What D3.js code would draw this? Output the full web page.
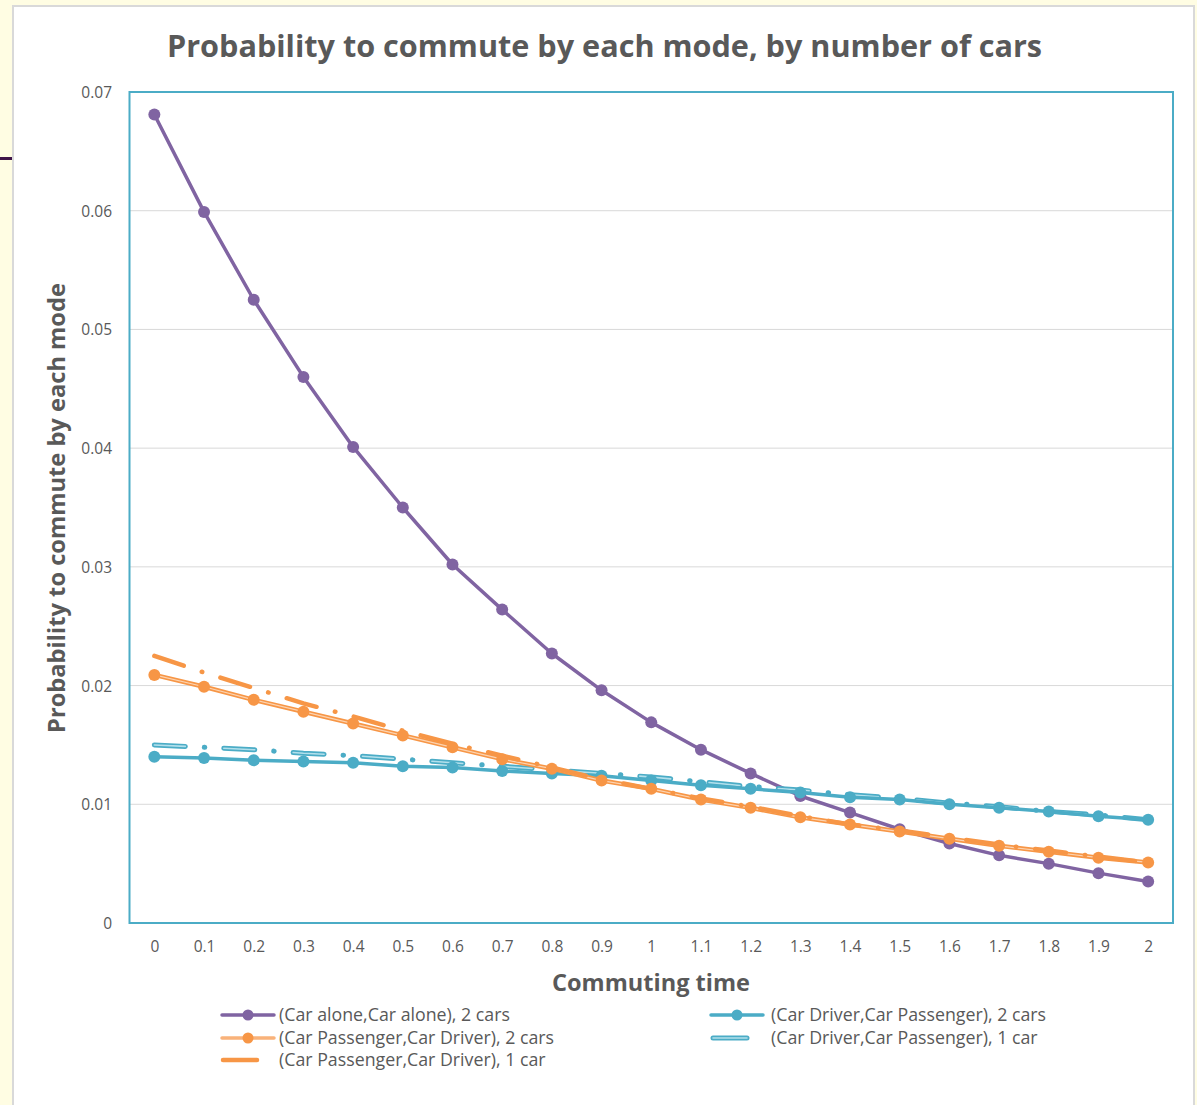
<!DOCTYPE html>
<html>
<head>
<meta charset="utf-8">
<script src="https://cdn.jsdelivr.net/npm/d3@7"></script>
<style>
  html, body { margin: 0; padding: 0; background: #fffde3; }
  svg { display: block; }
</style>
</head>
<body>
<svg id="chart" width="1197" height="1105"></svg>
<script>
// Commuting time categories (x axis)
const times = ["0","0.1","0.2","0.3","0.4","0.5","0.6","0.7","0.8","0.9","1",
               "1.1","1.2","1.3","1.4","1.5","1.6","1.7","1.8","1.9","2"];
const yTicks = [0, 0.01, 0.02, 0.03, 0.04, 0.05, 0.06, 0.07];

// Probability series
const carAlone2 = [0.0681,0.0599,0.0525,0.0460,0.0401,0.0350,0.0302,0.0264,0.0227,0.0196,0.0169,
                   0.0146,0.0126,0.0107,0.0093,0.0079,0.0067,0.0057,0.0050,0.0042,0.0035];
const passDriver2 = [0.0209,0.0199,0.0188,0.0178,0.0168,0.0158,0.0148,0.0138,0.0130,0.0120,0.0113,
                     0.0104,0.0097,0.0089,0.0083,0.0077,0.0071,0.0065,0.0060,0.0055,0.0051];
const passDriver1 = [0.0225,0.0211,0.0198,0.0185,0.0174,0.0162,0.0151,0.0141,0.0131,0.0121,0.0113,
                     0.0105,0.0098,0.0090,0.0083,0.0078,0.0072,0.0066,0.0061,0.0056,0.0051];
const driverPass2 = [0.0140,0.0139,0.0137,0.0136,0.0135,0.0132,0.0131,0.0128,0.0126,0.0124,0.0120,
                     0.0116,0.0113,0.0110,0.0106,0.0104,0.0100,0.0097,0.0094,0.0090,0.0087];
const driverPass1 = [0.0150,0.0148,0.0146,0.0143,0.0141,0.0138,0.0135,0.0132,0.0129,0.0126,0.0123,
                     0.0119,0.0115,0.0112,0.0108,0.0105,0.0101,0.0098,0.0094,0.0091,0.0087];

const labels = {
  carAlone2: "(Car alone,Car alone), 2 cars",
  passDriver2: "(Car Passenger,Car Driver), 2 cars",
  passDriver1: "(Car Passenger,Car Driver), 1 car",
  driverPass2: "(Car Driver,Car Passenger), 2 cars",
  driverPass1: "(Car Driver,Car Passenger), 1 car"
};

const PURPLE = "#8064a2", ORANGE = "#f79646", BLUE = "#4bacc6";
const BLUE_INNER = "#b3e0ec";
const TEXT = "#595959";
const FONT = "'Open Sans', 'Noto Sans', sans-serif";
const DASHDOT = "31,19,0.5,19";

const svg = d3.select("#chart");

// Fit a text element's font size so it spans a given width
function fitWidth(sel, width) {
  const node = sel.node();
  const size = parseFloat(sel.attr("font-size"));
  const w = node.getComputedTextLength();
  sel.attr("font-size", (size * width / w).toFixed(2));
  return size * width / w;
}

// slide remnant on the left edge
svg.append("rect").attr("x", 0).attr("y", 157).attr("width", 13).attr("height", 3).attr("fill", "#3f1548");

// chart panel
svg.append("rect").attr("x", 13).attr("y", 6).attr("width", 1181).attr("height", 1110)
  .attr("fill", "#ffffff").attr("stroke", "#d9d9d9").attr("stroke-width", 2);

const plot = { left: 129.5, right: 1173, top: 92, bottom: 923 };

const x = d3.scalePoint().domain(times).range([plot.left, plot.right]).padding(0.5);
const y = d3.scaleLinear().domain([0, 0.07]).range([plot.bottom, plot.top]);

// gridlines
svg.append("g").selectAll("line").data(yTicks.slice(1, -1)).join("line")
  .attr("x1", plot.left).attr("x2", plot.right)
  .attr("y1", d => y(d)).attr("y2", d => y(d))
  .attr("stroke", "#d9d9d9").attr("stroke-width", 1);

// y axis labels
const yAxis = d3.axisLeft(y).tickValues(yTicks).tickSize(0).tickPadding(0)
  .tickFormat(d => d === 0 ? "0" : d3.format(".2f")(d));
const gy = svg.append("g").attr("transform", `translate(112,0)`).call(yAxis);
gy.select(".domain").remove();
gy.selectAll("text").attr("fill", TEXT).attr("font-family", FONT).attr("font-size", 15.5).attr("dy", "0.35em");

// x axis labels
const xAxis = d3.axisBottom(x).tickSize(0).tickPadding(0);
const gx = svg.append("g").attr("transform", `translate(0,947)`).call(xAxis);
gx.select(".domain").remove();
gx.selectAll("text").attr("fill", TEXT).attr("font-family", FONT).attr("font-size", 15.5).attr("dy", "0.35em");

// plot border
svg.append("rect").attr("x", plot.left).attr("y", plot.top)
  .attr("width", plot.right - plot.left).attr("height", plot.bottom - plot.top)
  .attr("fill", "none").attr("stroke", BLUE).attr("stroke-width", 2);

const line = d3.line().x((d, i) => x(times[i])).y(d => y(d));

const series = svg.append("g");

function markers(values, color) {
  series.append("g").selectAll("circle").data(values).join("circle")
    .attr("cx", (d, i) => x(times[i])).attr("cy", d => y(d)).attr("r", 6).attr("fill", color);
}

// Car alone, 2 cars
series.append("path").attr("d", line(carAlone2)).attr("fill", "none")
  .attr("stroke", PURPLE).attr("stroke-width", 3.5).attr("stroke-linejoin", "round");
markers(carAlone2, PURPLE);

// Car Driver / Car Passenger, 1 car: double dash-dot line
series.append("path").attr("d", line(driverPass1)).attr("fill", "none")
  .attr("stroke", BLUE).attr("stroke-width", 5).attr("stroke-linecap", "round")
  .attr("stroke-dasharray", DASHDOT);
series.append("path").attr("d", line(driverPass1)).attr("fill", "none")
  .attr("stroke", BLUE_INNER).attr("stroke-width", 1.6).attr("stroke-linecap", "round")
  .attr("stroke-dasharray", "31,38.5");

// Car Driver / Car Passenger, 2 cars
series.append("path").attr("d", line(driverPass2)).attr("fill", "none")
  .attr("stroke", BLUE).attr("stroke-width", 3.5).attr("stroke-linejoin", "round");
markers(driverPass2, BLUE);

// Car Passenger / Car Driver, 2 cars: double line
series.append("path").attr("d", line(passDriver2)).attr("fill", "none")
  .attr("stroke", ORANGE).attr("stroke-width", 4.5).attr("stroke-linejoin", "round");
series.append("path").attr("d", line(passDriver2)).attr("fill", "none")
  .attr("stroke", "#fcd3b0").attr("stroke-width", 1.2).attr("stroke-linejoin", "round");
markers(passDriver2, ORANGE);

// Car Passenger / Car Driver, 1 car: dash-dot line
series.append("path").attr("d", line(passDriver1)).attr("fill", "none")
  .attr("stroke", ORANGE).attr("stroke-width", 4.5).attr("stroke-linecap", "round")
  .attr("stroke-dasharray", DASHDOT);

// title
const title = svg.append("text").attr("x", 604.5).attr("y", 57).attr("text-anchor", "middle")
  .attr("font-family", FONT).attr("font-weight", "bold").attr("font-size", 30).attr("fill", TEXT)
  .text("Probability to commute by each mode, by number of cars");
fitWidth(title, 875);

// axis titles
const xTitle = svg.append("text").attr("x", 651).attr("y", 991).attr("text-anchor", "middle")
  .attr("font-family", FONT).attr("font-weight", "bold").attr("font-size", 22).attr("fill", TEXT)
  .text("Commuting time");
fitWidth(xTitle, 198);

const yTitle = svg.append("text").attr("transform", "translate(65,508) rotate(-90)")
  .attr("text-anchor", "middle")
  .attr("font-family", FONT).attr("font-weight", "bold").attr("font-size", 22).attr("fill", TEXT)
  .text("Probability to commute by each mode");
fitWidth(yTitle, 450);

// legend
const legend = svg.append("g");
const legendItems = [
  { key: "carAlone2", x: 222, y: 1015, color: PURPLE, kind: "marker" },
  { key: "passDriver2", x: 222, y: 1038, color: ORANGE, kind: "doubleMarker" },
  { key: "passDriver1", x: 222, y: 1060, color: ORANGE, kind: "dash" },
  { key: "driverPass2", x: 711, y: 1015, color: BLUE, kind: "marker" },
  { key: "driverPass1", x: 711, y: 1038, color: BLUE, kind: "doubleDash" }
];
let legendSize = null;
legendItems.forEach(it => {
  const g = legend.append("g");
  if (it.kind === "marker" || it.kind === "doubleMarker") {
    g.append("line").attr("x1", it.x).attr("x2", it.x + 52).attr("y1", it.y).attr("y2", it.y)
      .attr("stroke", it.kind === "doubleMarker" ? "#f9b27a" : it.color).attr("stroke-width", 3.5)
      .attr("stroke-linecap", "round");
    g.append("circle").attr("cx", it.x + 26).attr("cy", it.y).attr("r", 5.5).attr("fill", it.color);
  } else if (it.kind === "dash") {
    g.append("line").attr("x1", it.x + 1).attr("x2", it.x + 35).attr("y1", it.y).attr("y2", it.y)
      .attr("stroke", it.color).attr("stroke-width", 4.5).attr("stroke-linecap", "round");
  } else {
    g.append("line").attr("x1", it.x + 2).attr("x2", it.x + 36).attr("y1", it.y).attr("y2", it.y)
      .attr("stroke", it.color).attr("stroke-width", 5).attr("stroke-linecap", "round");
    g.append("line").attr("x1", it.x + 2).attr("x2", it.x + 36).attr("y1", it.y).attr("y2", it.y)
      .attr("stroke", BLUE_INNER).attr("stroke-width", 1.6).attr("stroke-linecap", "round");
  }
  const t = g.append("text").attr("x", it.x + (it.x < 500 ? 57 : 60)).attr("y", it.y).attr("dy", "0.35em")
    .attr("font-family", FONT).attr("font-size", 16).attr("fill", TEXT)
    .text(labels[it.key]);
  if (legendSize === null) legendSize = fitWidth(t, 231);
  else t.attr("font-size", legendSize.toFixed(2));
});
</script>
</body>
</html>
